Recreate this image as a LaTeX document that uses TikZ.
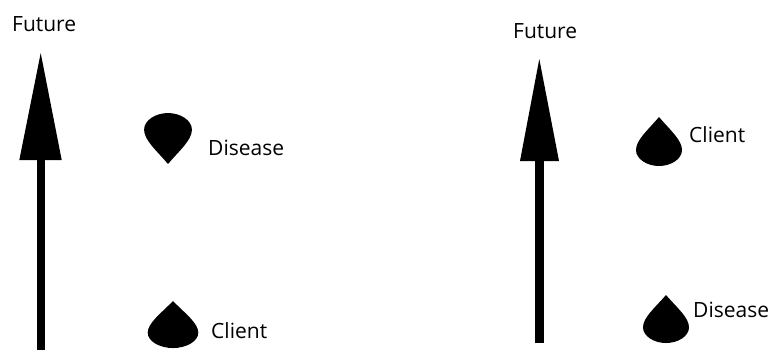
\documentclass[tikz,border=0pt]{standalone}
\usepackage{fontspec}
\setmainfont{Open Sans}
\tikzset{
  lbl/.style={anchor=base west, inner sep=0pt, font=\fontsize{21}{24}\selectfont},
  pics/droplet/.style={code={
    \fill[black] (0,0) .. controls (-11,13) and (-23,23) .. (-23,33)
      .. controls (-23,42) and (-12,49) .. (0,49)
      .. controls (12,49) and (23,42) .. (23,33)
      .. controls (23,23) and (11,13) .. (0,0) -- cycle;
  }},
}
\begin{document}
\begin{tikzpicture}[x=1pt,y=-1pt]
\useasboundingbox (0,0) rectangle (771,349);
% left panel
\coordinate (ltip) at (40.7,53);
\coordinate (lbl) at (19.3,160);
\coordinate (lbr) at (61.7,160);
\coordinate (lsb) at (40.8,352);
\fill[black] (ltip) -- (lbr) -- (lbl) -- cycle;
\draw[line width=8.3pt] (lsb) -- ([yshift=3pt]lsb |- lbl);
\node[lbl] (lfut) at (12,31.7) {Future};
\pic[xscale=1.04,yscale=-1.04] (ldis) at (168,164) {droplet};
\node[lbl] (ldist) at (208,155) {Disease};
\pic[xscale=1.1,yscale=0.96] (lcli) at (173,301) {droplet};
\node[lbl] (lclit) at (211,338) {Client};
% right panel
\coordinate (rtip) at (539.3,59);
\coordinate (rbl) at (520,161);
\coordinate (rbr) at (559,161);
\coordinate (rsb) at (539.5,343);
\fill[black] (rtip) -- (rbr) -- (rbl) -- cycle;
\draw[line width=8.5pt] (rsb) -- ([yshift=3pt]rsb |- rbl);
\node[lbl] (rfut) at (513,38) {Future};
\pic (rcli) at (659,117) {droplet};
\node[lbl] (rclit) at (689,142) {Client};
\pic[yscale=0.98] (rdis) at (666,295) {droplet};
\node[lbl] (rdist) at (693,317) {Disease};
\end{tikzpicture}
\end{document}
